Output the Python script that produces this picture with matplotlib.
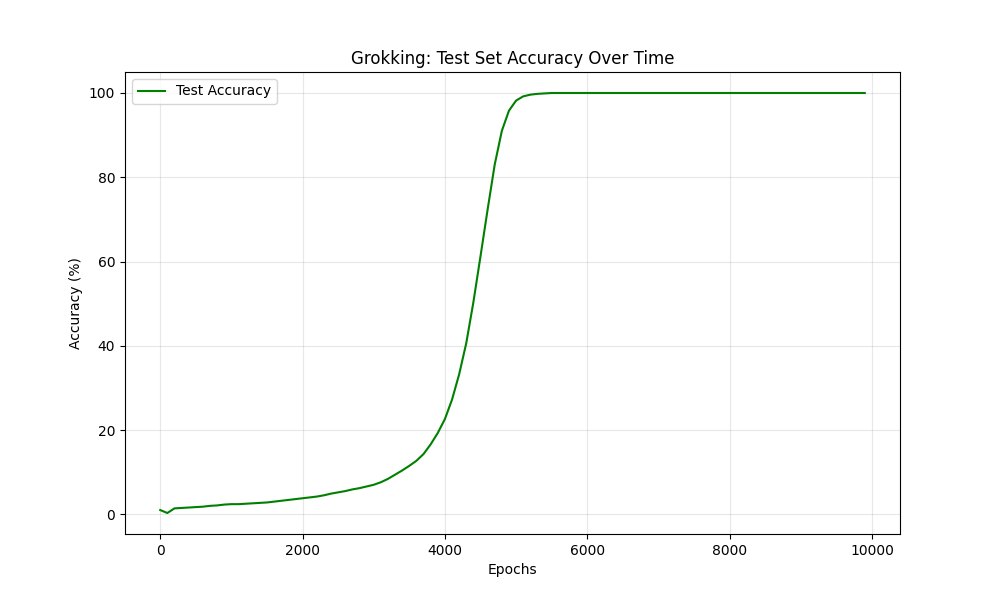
import matplotlib
matplotlib.use('Agg')
import matplotlib.pyplot as plt
import numpy as np

# epochs sampled every 100
epochs = np.arange(0, 10000, 100)

# test accuracy (%), 0..5400, then flat at 100
acc_rise = [1.0, 0.3, 1.4, 1.5, 1.6, 1.7, 1.8, 2.0, 2.1, 2.3,
            2.4, 2.4, 2.5, 2.6, 2.7, 2.8, 3.0, 3.2, 3.4, 3.6,
            3.8, 4.0, 4.2, 4.5, 4.9, 5.2, 5.5, 5.9, 6.2, 6.6,
            7.0, 7.6, 8.4, 9.4, 10.4, 11.5, 12.7, 14.3, 16.6, 19.3,
            22.6, 27.2, 33.2, 40.6, 50.3, 61.2, 72.3, 83.0, 91.0, 95.8,
            98.2, 99.2, 99.6, 99.8, 99.9]
acc_plateau = [100.0] * (len(epochs) - len(acc_rise))
test_acc = np.array(acc_rise + acc_plateau)

fig, ax = plt.subplots(figsize=(10, 6), dpi=100)
ax.plot(epochs, test_acc, color='green', label='Test Accuracy')
ax.set_title('Grokking: Test Set Accuracy Over Time')
ax.set_xlabel('Epochs')
ax.set_ylabel('Accuracy (%)')
ax.grid(True, alpha=0.3)
ax.legend(loc='upper left')

fig.savefig('out.png')
